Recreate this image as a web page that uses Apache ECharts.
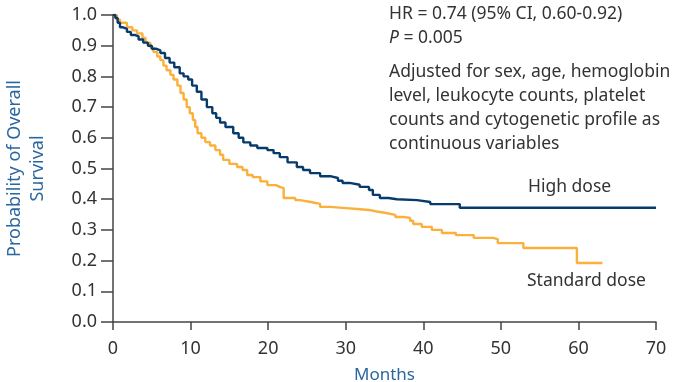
<!DOCTYPE html>
<html>
<head>
<meta charset="utf-8">
<script src="https://cdn.jsdelivr.net/npm/echarts@6/dist/echarts.min.js"></script>
<style>
  html, body { margin: 0; padding: 0; background: #fff; }
  #main { width: 684px; height: 382px; }
</style>
</head>
<body>
<div id="main"></div>
<script>
var FONT = '"Noto Sans", "Liberation Sans", sans-serif';

// months, survival probability (Kaplan-Meier steps)
var highMonths = [0, 0.3, 0.6, 0.9, 1.3, 1.8, 2.3, 2.8, 3.3, 3.9, 4.5, 5.0, 5.6, 6.1, 6.7, 7.3, 7.9, 8.6, 9.1, 9.7,
  10.2, 10.8, 11.4, 12.1, 12.8, 13.3, 13.8, 14.5, 15.5, 16.2, 16.8, 17.7, 18.6, 19.9, 20.7, 21.5, 22.5, 23.7, 24.5,
  25.4, 26.7, 28.0, 29.0, 29.6, 30.5, 31.8, 33.0, 33.5, 34.4, 35.5, 36.6, 39.2, 40.9, 44.7, 70];
var highSurv = [1.0, 0.99, 0.975, 0.96, 0.955, 0.945, 0.935, 0.93, 0.92, 0.91, 0.90, 0.89, 0.885, 0.876, 0.86, 0.845, 0.83, 0.81, 0.80, 0.79,
  0.77, 0.75, 0.725, 0.70, 0.68, 0.665, 0.65, 0.635, 0.615, 0.60, 0.585, 0.575, 0.567, 0.56, 0.55, 0.537, 0.52, 0.505, 0.495,
  0.485, 0.475, 0.469, 0.46, 0.453, 0.447, 0.44, 0.43, 0.414, 0.404, 0.40, 0.397, 0.391, 0.384, 0.372, 0.372];

var stdMonths = [0, 0.5, 0.9, 1.8, 2.5, 3.1, 3.8, 4.2, 4.8, 5.2, 5.7, 6.1, 6.5, 6.9, 7.4, 7.8, 8.3, 8.7, 9.1, 9.5, 9.9,
  10.3, 10.6, 10.9, 11.4, 11.9, 12.5, 13.2, 13.8, 14.2, 15.0, 16.0, 16.7, 17.3, 18.0, 19.0, 19.9, 21.0, 21.5, 22.0,
  23.5, 24.1, 25.5, 26.7, 28.0, 30.0, 31.5, 33.0, 34.0, 35.2, 36.4, 37.5, 38.3, 38.7, 39.8, 41.1, 42.4, 44.2, 46.5,
  49.0, 49.6, 52.9, 59.8, 63.1];
var stdSurv = [1.0, 0.985, 0.975, 0.96, 0.95, 0.94, 0.925, 0.91, 0.895, 0.88, 0.865, 0.853, 0.835, 0.82, 0.805, 0.79, 0.77, 0.746, 0.725, 0.70, 0.68,
  0.658, 0.635, 0.615, 0.60, 0.586, 0.575, 0.56, 0.545, 0.528, 0.515, 0.505, 0.495, 0.479, 0.472, 0.458, 0.446, 0.44, 0.436, 0.404,
  0.397, 0.391, 0.385, 0.375, 0.371, 0.368, 0.365, 0.36, 0.355, 0.349, 0.342, 0.339, 0.33, 0.319, 0.31, 0.30, 0.29, 0.283, 0.274,
  0.27, 0.257, 0.241, 0.192, 0.192];

var noteLines = ['Adjusted for sex, age, hemoglobin', 'level, leukocyte counts, platelet',
  'counts and cytogenetic profile as', 'continuous variables'];

function pairs(xs, ys) {
  return xs.map(function (x, i) { return [x, ys[i]]; });
}

var myChart = echarts.init(document.getElementById('main'), null, { renderer: 'canvas' });

var option = {
  animation: false,
  grid: { left: 113, right: 28, top: 15, bottom: 60, containLabel: false, outerBoundsMode: 'none' },
  xAxis: {
    type: 'value', min: 0, max: 70, interval: 10,
    name: 'Months', nameLocation: 'middle', nameGap: 45,
    nameTextStyle: { color: '#2b679f', fontSize: 17, fontFamily: FONT },
    axisLine: { lineStyle: { color: '#444', width: 1.5 } },
    axisTick: { length: 8, lineStyle: { color: '#444', width: 1.5 } },
    axisLabel: { color: '#333', fontSize: 18, fontFamily: FONT, margin: 18 },
    splitLine: { show: false }
  },
  yAxis: {
    type: 'value', min: 0, max: 1, interval: 0.1,
    name: 'Probability of Overall\nSurvival', nameLocation: 'middle', nameGap: 64,
    nameTextStyle: { color: '#2b679f', fontSize: 18, fontFamily: FONT, lineHeight: 23 },
    axisLine: { show: true, lineStyle: { color: '#444', width: 1.5 } },
    axisTick: { show: true, length: 12, lineStyle: { color: '#444', width: 1.5 } },
    axisLabel: { color: '#333', fontSize: 18, fontFamily: FONT, margin: 16,
      formatter: function (v) { return v.toFixed(1); } },
    splitLine: { show: false }
  },
  series: [
    {
      name: 'High dose', type: 'line', step: 'end', showSymbol: false,
      data: pairs(highMonths, highSurv),
      lineStyle: { color: '#073b6c', width: 2.4 }, z: 3
    },
    {
      name: 'Standard dose', type: 'line', step: 'end', showSymbol: false,
      data: pairs(stdMonths, stdSurv),
      lineStyle: { color: '#fbb03b', width: 2.4 }, z: 2
    }
  ],
  graphic: [
    { type: 'text', left: 389, top: 5,
      style: { text: 'HR = 0.74 (95% CI, 0.60-0.92)', fill: '#333', font: '17.5px ' + FONT } },
    { type: 'text', left: 389, top: 29,
      style: { text: '{i|P} = 0.005', fill: '#333', font: '17.5px ' + FONT,
        rich: { i: { fontStyle: 'italic', fontSize: 17.5, fontFamily: FONT, fill: '#333' } } } },
    { type: 'text', left: 389, top: 60,
      style: { text: noteLines.join('\n'), fill: '#333', font: '17.5px ' + FONT, lineHeight: 24 } },
    { type: 'text', left: 528, top: 178,
      style: { text: 'High dose', fill: '#333', font: '17.5px ' + FONT } },
    { type: 'text', left: 527, top: 272,
      style: { text: 'Standard dose', fill: '#333', font: '17.5px ' + FONT } }
  ]
};
myChart.setOption(option);
</script>
</body>
</html>
